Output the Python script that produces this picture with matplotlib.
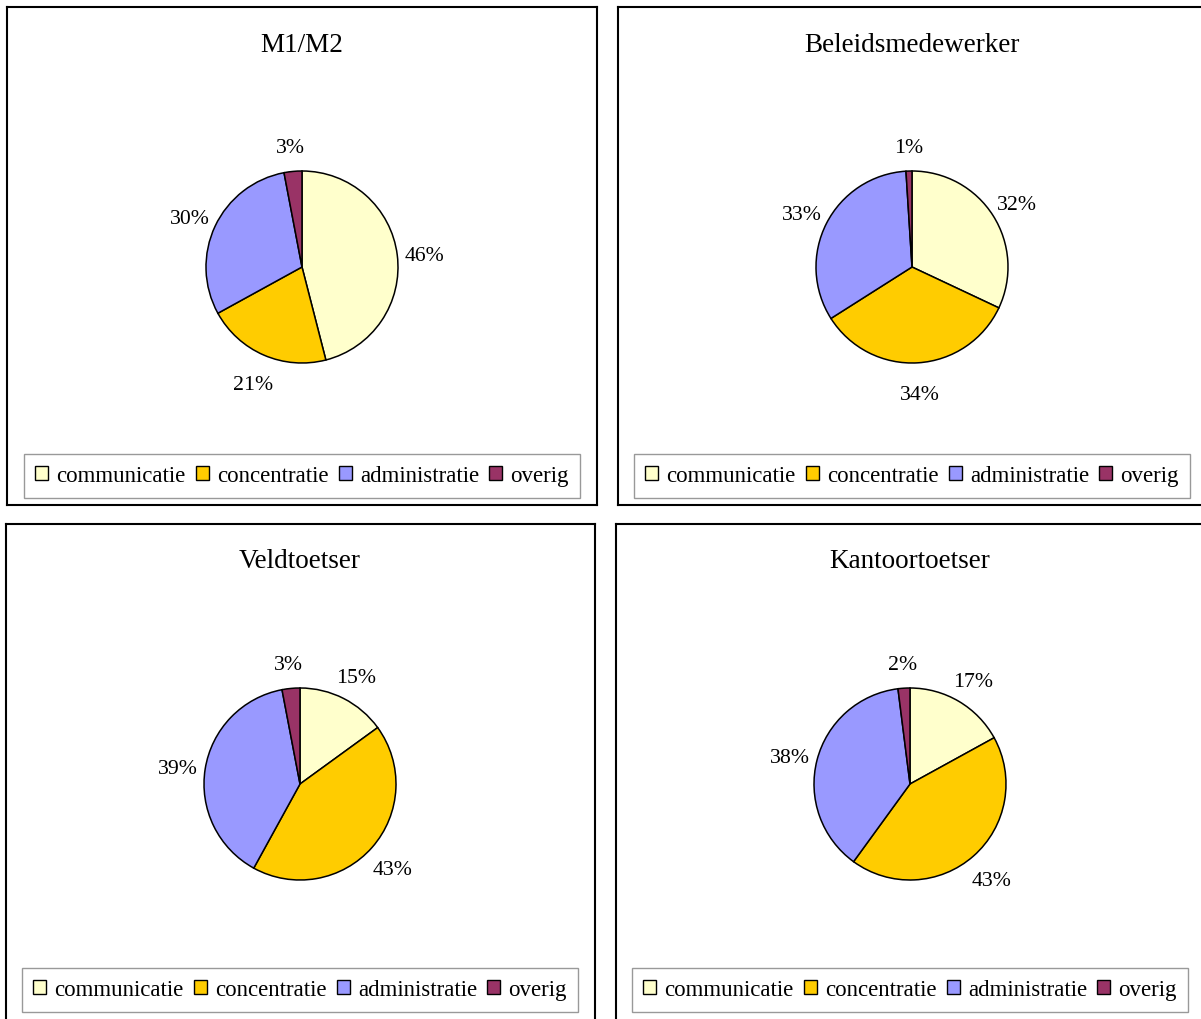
import matplotlib
matplotlib.use("Agg")
import matplotlib.pyplot as plt

# ------------------------------------------------------------
#  Data
# ------------------------------------------------------------
categories = ["communicatie", "concentratie", "administratie", "overig"]
titles = ["M1/M2", "Beleidsmedewerker", "Veldtoetser", "Kantoortoetser"]

m1_m2 = [46, 21, 30, 3]
beleidsmedewerker = [32, 34, 33, 1]
veldtoetser = [15, 43, 39, 3]
kantoortoetser = [17, 43, 38, 2]

colors = ["#FFFFCC", "#FFCC00", "#9999FF", "#993366"]

# ------------------------------------------------------------
#  Layout (pixels on a 1201 x 1019 canvas)
# ------------------------------------------------------------
W, H = 1201, 1019
plt.rcParams["font.family"] = ["Liberation Serif", "DejaVu Serif"]

# panel box (x0, y0, x1, y1), pie centre (cx, cy), legend bottom
panels = [
    ((7, 7, 597, 505), (302, 267), 498),
    ((618, 7, 1206, 505), (912, 267), 498),
    ((6, 524, 595, 1026), (300, 784), 1012),
    ((616, 524, 1206, 1026), (910, 784), 1012),
]
series = [m1_m2, beleidsmedewerker, veldtoetser, kantoortoetser]
R = 96

fig = plt.figure(figsize=(W / 100, H / 100), dpi=100)

for (box, (cx, cy), leg_y), title, vals in zip(panels, titles, series):
    x0, y0, x1, y1 = box
    ax = fig.add_axes([x0 / W, 1 - y1 / H, (x1 - x0) / W, (y1 - y0) / H])
    wedges, _, autotexts = ax.pie(
        vals, colors=colors, startangle=90, counterclock=False,
        center=(cx, H - cy), radius=R, frame=True,
        autopct="%.0f%%", pctdistance=1.29,
        wedgeprops={"edgecolor": "black", "linewidth": 1.1},
        textprops={"fontsize": 15.7},
    )
    for t in autotexts:
        px, py = t.get_position()
        t.set_position((px, py - 5))
    ax.set_aspect("auto")
    ax.set_xlim(x0, x1)
    ax.set_ylim(H - y1, H - y0)
    ax.set_xticks([])
    ax.set_yticks([])
    for sp in ax.spines.values():
        sp.set_linewidth(1.5)
        sp.set_color("black")

    ax.text(cx, H - (y0 + 38), title, ha="center", va="center", fontsize=19.5)

    leg = ax.legend(
        wedges, categories, ncol=4, loc="lower center",
        bbox_to_anchor=(cx, H - leg_y), bbox_transform=ax.transData,
        fontsize=16.5, frameon=True, fancybox=False, borderaxespad=0,
        handlelength=0.57, handleheight=0.57, handletextpad=0.35,
        columnspacing=0.45, borderpad=0.5,
    )
    leg.get_frame().set_edgecolor("#808080")
    leg.get_frame().set_linewidth(1.0)
    for h in leg.legend_handles:
        h.set_edgecolor("black")
        h.set_linewidth(1.0)

fig.savefig("out.png", dpi=100)
